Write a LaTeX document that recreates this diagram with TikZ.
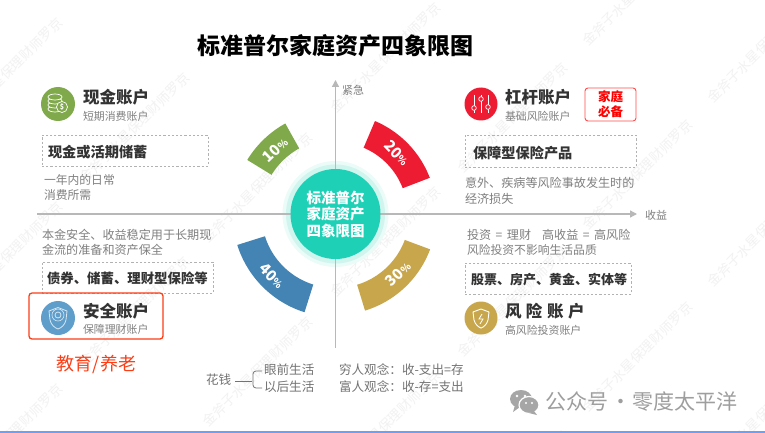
\documentclass[tikz,border=0pt]{standalone}
\usepackage{fontspec}
\setmainfont{Noto Sans CJK SC}
\usetikzlibrary{arrows.meta}
\definecolor{cgreen}{HTML}{7FA94B}
\definecolor{cred}{HTML}{EE1C32}
\definecolor{cblue}{HTML}{4384B4}
\definecolor{cblueicon}{HTML}{5F9DCB}
\definecolor{cgold}{HTML}{C8A64C}
\definecolor{cteal}{HTML}{1DD0B6}
\definecolor{chalo}{HTML}{CFF5EE}
\definecolor{chaloout}{HTML}{EAFBF8}
\definecolor{cdark}{HTML}{333333}
\definecolor{cgray}{HTML}{808080}
\definecolor{caxis}{HTML}{B8B8B8}
\definecolor{corange}{HTML}{FB3E16}
\definecolor{cmark}{HTML}{F2F2F2}
\definecolor{cbar}{HTML}{6E9EF5}
\newcommand{\fsz}[1]{\fontsize{#1}{#1}\selectfont}
\newcommand{\annsector}[5]{\fill[#1] plot[domain=#2:#3,samples=30] (\x:#5) -- plot[domain=#3:#2,samples=30] (\x:#4) -- cycle;}
\newcommand{\pct}[1]{\bfseries\fsz{15}#1{\fsz{10}\%}}
\tikzset{
  every node/.style={inner sep=0pt,outer sep=0pt},
  lefttext/.style={anchor=west},
  acct/.style={lefttext,text=cdark,font=\bfseries\fsz{16.5}},
  subacct/.style={lefttext,text=cgray,font=\fsz{10.9}},
  prod/.style={lefttext,text=cdark,font=\bfseries\fsz{14.2}},
  desc/.style={lefttext,text=cgray,font=\fsz{12.1}},
  dashbox/.style={draw=black!30,dashed,dash pattern=on 2.2pt off 2pt,line width=0.6pt},
  axisline/.style={draw=caxis,line width=1.3pt},
  axisarrow/.style={axisline,-{Triangle[length=7pt,width=7pt]}},
  axislabel/.style={text=cgray,font=\fsz{11}},
  pctlabel/.style={text=white},
  whiteicon/.style={draw=white,line width=0.7pt},
  notetext/.style={lefttext,text=black!55,font=\fsz{12.6}},
  watermark/.style={text=cmark,font=\fsz{13.5},rotate=45,anchor=east}
}
\begin{document}
\begin{tikzpicture}[x=1pt,y=-1pt]
\useasboundingbox (0,0) rectangle (765,433);
\fill[white] (0,0) rectangle (765,433);
% watermarks
\begin{scope}
\clip (0,0) rectangle (765,431);
\foreach \wx/\wy [count=\wi] in {60/20,60/204,60/386,187/75,187/259,187/443,310/135,310/319,438/5,438/189,438/373,565/65,565/249,565/433,690/-62,690/122,690/304,815/-5,815/179,815/363}{
  \node[watermark] (wm\wi) at (\wx,\wy) {金斧子水星保理财师罗京};
}
\end{scope}
\fill[cbar] (0,431) rectangle (765,433);
% title
\node[text=black,font=\bfseries\fsz{23}] (title) at (335.5,46) {标准普尔家庭资产四象限图};
% halo, axes
\coordinate (center) at (335.5,214);
\coordinate (ytop) at (335.5,80);
\coordinate (ybot) at (335.5,348);
\coordinate (xleft) at (37,214);
\coordinate (xright) at (637,214);
\fill[chaloout] (center) circle[radius=53];
\fill[chalo] (center) circle[radius=49.5];
\draw[axisline] (center) -- (ybot);
\draw[axisline] (center) -- (xleft);
\draw[axisarrow] (center) -- (ytop);
\draw[axisarrow] (center) -- (xright);
\node[axislabel] (jinji) at (353,90) {紧急};
\node[axislabel] (shouyi) at (656,215) {收益};
% sectors
\begin{scope}[shift={(center)}]
\annsector{cgreen}{-148.5}{-119}{75}{103.5}
\annsector{cred}{-67}{-21}{72}{101}
\annsector{cblue}{107.5}{162.5}{74}{103}
\annsector{cgold}{20.5}{73}{74}{101}
\end{scope}
\node[pctlabel,rotate=44] (p10) at (275,150) {\pct{10}};
\node[pctlabel,rotate=-46] (p20) at (397,153) {\pct{20}};
\node[pctlabel,rotate=-45] (p40) at (272,276) {\pct{40}};
\node[pctlabel,rotate=45] (p30) at (398,274) {\pct{30}};
% central circle
\node[circle,fill=cteal,minimum size=90pt] (hub) at (center) {};
\node[text=white,font=\bfseries\fsz{14.5}] (hubl1) at (335.5,197.5) {标准普尔};
\node[text=white,font=\bfseries\fsz{14.5}] (hubl2) at (335.5,214) {家庭资产};
\node[text=white,font=\bfseries\fsz{14.5}] (hubl3) at (335.5,230.5) {四象限图};
% green icon
\node[circle,fill=cgreen,minimum size=34pt] (icoa) at (58,104) {};
\foreach \yy in {109,105,101,97}{
  \draw[whiteicon,fill=cgreen] (55,\yy) ellipse[x radius=7,y radius=3];
}
\draw[whiteicon,fill=cgreen] (62,107) circle[radius=5.5];
\node[text=white,font=\bfseries\fsz{7}] (icoad) at (62,107) {\$};
% red icon
\node[circle,fill=cred,minimum size=33pt] (icob) at (481,104) {};
\foreach \xx/\yy in {474/108,481/99,488/107}{
  \draw[whiteicon] (\xx,95) -- (\xx,113);
  \draw[whiteicon,fill=cred] (\xx,\yy) circle[radius=2.3];
}
% blue icon
\node[circle,fill=cblueicon,minimum size=34pt] (icoc) at (58,318) {};
\draw[white!75!cblueicon,line width=0.8pt] (58,307.5) -- (67,311) -- (66,320) .. controls (65,325) and (61,328) .. (58,329) .. controls (55,328) and (51,325) .. (50,320) -- (49,311) -- cycle;
\draw[white!75!cblueicon,line width=0.8pt] (58,315) circle[radius=3];
\draw[white!75!cblueicon,line width=0.6pt] (58,315) circle[radius=6];
% gold icon
\node[circle,fill=cgold,minimum size=33pt] (icod) at (481,318) {};
\draw[white,line width=0.9pt] (481,309) -- (489,312) -- (488,320) .. controls (487,324) and (484,327) .. (481,328) .. controls (478,327) and (475,324) .. (474,320) -- (473,312) -- cycle;
\draw[white,line width=0.8pt] (482,314) -- (479,319) -- (483,319) -- (480,324);
% top-left block
\node[acct] (a1) at (83,97) {现金账户};
\node[subacct] (a2) at (83,116) {短期消费账户};
\node[dashbox,minimum width=166pt,minimum height=31pt] (a3) at (125,150.5) {};
\node[prod] (a4) at (48,152) {现金或活期储蓄};
\node[desc,font=\fsz{11.8}] (a5) at (44,180) {一年内的日常};
\node[desc,font=\fsz{11.8}] (a6) at (44,195) {消费所需};
% top-right block
\node[acct] (b1) at (505,97) {杠杆账户};
\node[subacct] (b2) at (505,116) {基础风险账户};
\node[draw=red!70,line width=0.9pt,rounded corners=3pt,minimum width=51pt,minimum height=33pt] (b3) at (610.5,104.5) {};
\node[text=red,font=\bfseries\fsz{12.5}] (b4) at (610.5,97) {家庭};
\node[text=red,font=\bfseries\fsz{12.5}] (b5) at (610.5,111.5) {必备};
\node[dashbox,minimum width=171pt,minimum height=32pt] (b6) at (550.5,151) {};
\node[prod] (b7) at (473,153) {保障型保险产品};
\node[desc] (b8) at (465,183) {意外、疾病等风险事故发生时的};
\node[desc] (b9) at (465,199) {经济损失};
% bottom-left block
\node[desc] (c1) at (42,235) {本金安全、收益稳定用于长期现};
\node[desc] (c2) at (42,250) {金流的准备和资产保全};
\node[dashbox,minimum width=171pt,minimum height=31pt] (c3) at (127.5,277.5) {};
\node[prod,font=\bfseries\fsz{13.4}] (c4) at (47,278) {债券、储蓄、理财型保险等};
\node[draw=corange,line width=1.3pt,rounded corners=3pt,minimum width=134pt,minimum height=46pt] (c5) at (96,316) {};
\node[acct] (c6) at (83,311) {安全账户};
\node[subacct] (c7) at (83,329) {保障理财账户};
\node[text=corange,font=\fsz{18}] (c8) at (96.5,364) {教育/养老};
% bottom-right block
\node[desc] (d1) at (467,235) {投资\hspace{4.5pt}=\hspace{4.5pt}理财\hspace{11pt}高收益\hspace{4.5pt}=\hspace{4.5pt}高风险};
\node[desc,font=\fsz{11.8}] (d2) at (467,250) {风险投资不影响生活品质};
\node[dashbox,minimum width=166pt,minimum height=31pt] (d3) at (548,278.5) {};
\node[prod,font=\bfseries\fsz{13}] (d4) at (471,280) {股票、房产、黄金、实体等};
\node[acct] (d5) at (505,311) {风\hspace{4.5pt}险\hspace{4.5pt}账\hspace{4.5pt}户};
\node[subacct] (d6) at (505,330) {高风险投资账户};
% bottom notes
\node[notetext] (n1) at (206,380) {花钱};
\node[notetext] (n2) at (264,370) {眼前生活};
\node[notetext] (n3) at (264,387) {以后生活};
\node[notetext] (n4) at (339,370) {穷人观念：收-支出=存};
\node[notetext] (n5) at (339,387) {富人观念：收-存=支出};
\draw[draw=black!55,line width=0.8pt,rounded corners=3pt] (n2.west)++(-2,1) -- ++(-9,0) -- ++(0,17) -- ++(9,0);
\draw[draw=black!55,line width=0.8pt] (n1.east)++(4,1) -- ++(17,0);
% wechat mark
\fill[black!35] (521,399) ellipse[x radius=11,y radius=9];
\fill[black!35] (515,405) -- (513,412) -- (520,407) -- cycle;
\draw[white,line width=1.2pt,fill=black!35] (529,405) ellipse[x radius=10,y radius=8.5];
\fill[black!35] (534,411) -- (537,415) -- (529,413) -- cycle;
\fill[white] (517,396) circle[radius=1.3] (525,396) circle[radius=1.3] (526,403) circle[radius=1.1] (532,403) circle[radius=1.1];
\node[lefttext,text=black!38,font=\fsz{21}] (wc) at (545,402) {公众号\makebox[25pt][c]{·}零度太平洋};
\end{tikzpicture}
\end{document}
